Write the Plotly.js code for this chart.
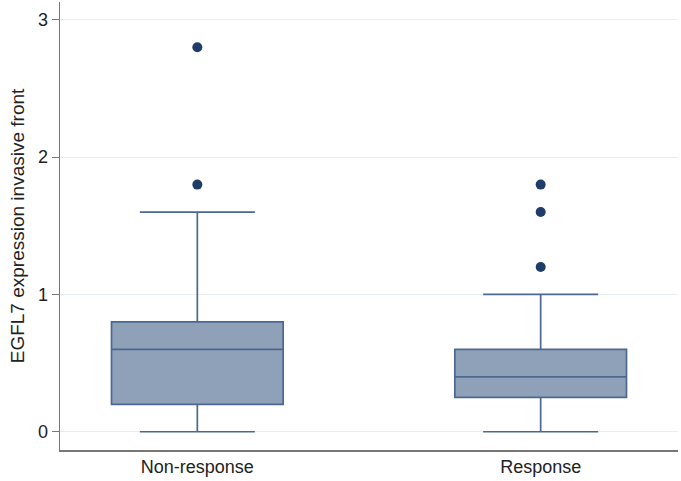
<!DOCTYPE html>
<html><head><meta charset="utf-8">
<script src="https://cdn.plot.ly/plotly-3.0.1.min.js"></script>
<style>html,body{margin:0;padding:0;background:#fff}#chart{width:681px;height:481px}</style>
</head><body><div id="chart"></div>
<script>
const groups = ["Non-response", "Response"];
const lowerFence = [0, 0];
const q1 = [0.2, 0.25];
const medians = [0.6, 0.4];
const q3 = [0.8, 0.6];
const upperFence = [1.6, 1.0];
const outlierGroups = ["Non-response", "Non-response", "Response", "Response", "Response"];
const outlierValues = [1.8, 2.8, 1.2, 1.6, 1.8];
const yTicks = [0, 1, 2, 3];

const data = [
  {
    type: "box",
    x: groups,
    q1: q1, median: medians, q3: q3,
    lowerfence: lowerFence, upperfence: upperFence,
    boxpoints: false,
    width: 0.5,
    whiskerwidth: 0.67,
    fillcolor: "#8fa0b9",
    line: {color: "#4c6890", width: 1.7},
    hoverinfo: "skip",
    showlegend: false
  },
  {
    type: "scatter",
    mode: "markers",
    x: outlierGroups,
    y: outlierValues,
    marker: {color: "#1f3d68", size: 10},
    hoverinfo: "skip",
    showlegend: false
  }
];

const layout = {
  width: 681, height: 481,
  margin: {l: 60, r: 3, t: 2, b: 31},
  paper_bgcolor: "#fff", plot_bgcolor: "#fff",
  font: {family: "Arial, Liberation Sans, sans-serif", color: "#222", size: 18},
  xaxis: {
    type: "category",
    range: [-0.4, 1.4],
    showline: true, linecolor: "#777", linewidth: 1.5,
    showgrid: false, zeroline: false,
    ticks: "", tickfont: {size: 18},
    fixedrange: true
  },
  yaxis: {
    range: [-0.133, 3.13],
    tickvals: yTicks,
    ticks: "outside", ticklen: 7, tickcolor: "#777", tickwidth: 1,
    showline: true, linecolor: "#777", linewidth: 1.5,
    showgrid: true, gridcolor: "#e9eef3", gridwidth: 1,
    zeroline: false,
    tickfont: {size: 18},
    title: {text: "EGFL7 expression invasive front", font: {size: 19}, standoff: 8},
    fixedrange: true
  }
};

Plotly.newPlot("chart", data, layout, {staticPlot: true, displayModeBar: false});
</script></body></html>
